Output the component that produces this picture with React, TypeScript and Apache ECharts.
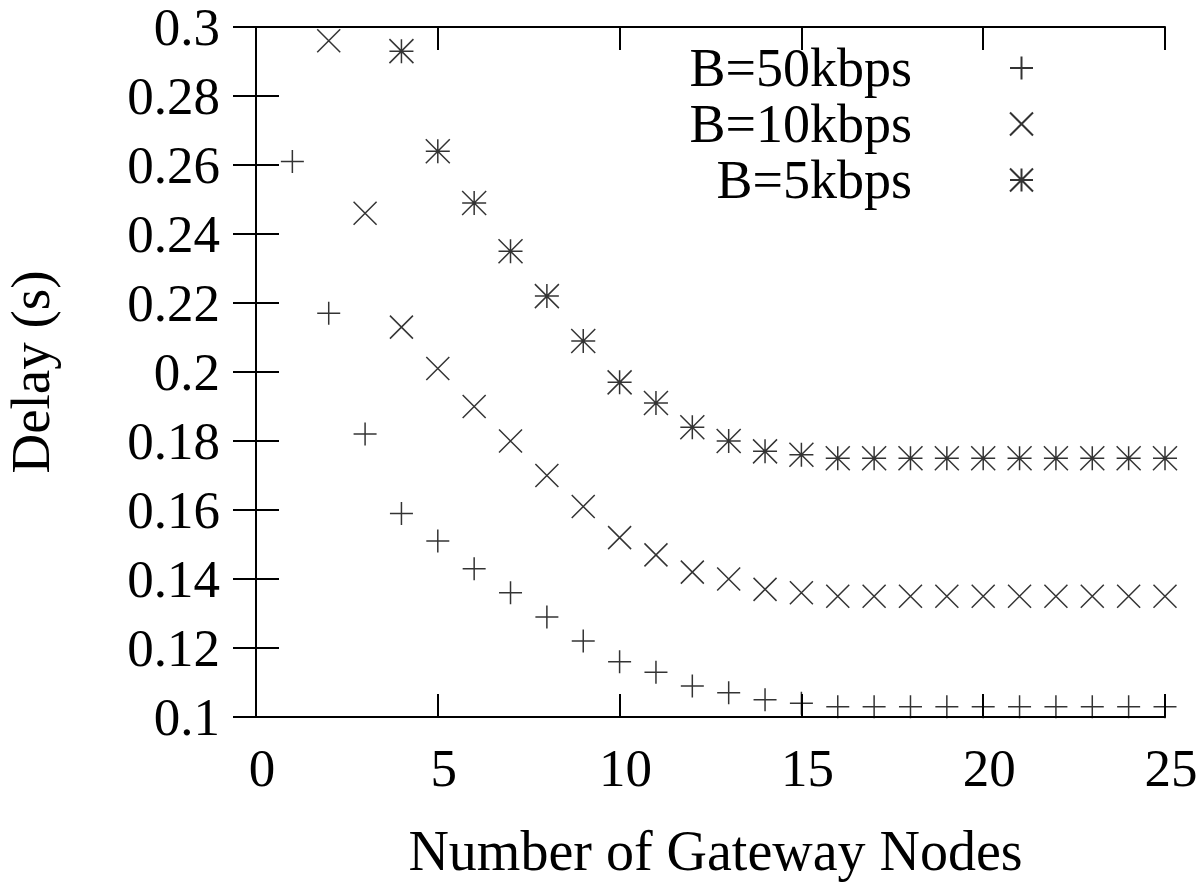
import React, { useEffect, useRef } from "react";
import * as echarts from "echarts";

const b50X = [1, 2, 3, 4, 5, 6, 7, 8, 9, 10, 11, 12, 13, 14, 15, 16, 17, 18, 19, 20, 21, 22, 23, 24, 25];
const b50Y = [0.261, 0.217, 0.182, 0.159, 0.151, 0.143, 0.136, 0.129, 0.122, 0.116, 0.113, 0.109, 0.107, 0.105, 0.104, 0.103, 0.103, 0.103, 0.103, 0.103, 0.103, 0.103, 0.103, 0.103, 0.103];

const b10X = [2, 3, 4, 5, 6, 7, 8, 9, 10, 11, 12, 13, 14, 15, 16, 17, 18, 19, 20, 21, 22, 23, 24, 25];
const b10Y = [0.296, 0.246, 0.213, 0.201, 0.190, 0.180, 0.170, 0.161, 0.152, 0.147, 0.142, 0.140, 0.137, 0.136, 0.135, 0.135, 0.135, 0.135, 0.135, 0.135, 0.135, 0.135, 0.135, 0.135];

const b5X = [4, 5, 6, 7, 8, 9, 10, 11, 12, 13, 14, 15, 16, 17, 18, 19, 20, 21, 22, 23, 24, 25];
const b5Y = [0.293, 0.264, 0.249, 0.235, 0.222, 0.209, 0.197, 0.191, 0.184, 0.180, 0.177, 0.176, 0.175, 0.175, 0.175, 0.175, 0.175, 0.175, 0.175, 0.175, 0.175, 0.175];

const seriesNames = ["B=50kbps", "B=10kbps", "B=5kbps"];
const xAxisTitle = "Number of Gateway Nodes";
const yAxisTitle = "Delay (s)";

const PLUS = "path://M0,5L10,5M5,0L5,10";
const CROSS = "path://M0,0L10,10M10,0L0,10";
const STAR = "path://M0,5L10,5M5,0L5,10M0,0L10,10M10,0L0,10";

const FONT = "Liberation Serif";

export default function App() {
  const ref = useRef<HTMLDivElement>(null);
  useEffect(() => {
    if (!ref.current) return;
    const chart = echarts.init(ref.current, undefined, { renderer: "svg" });
    const pair = (xs: number[], ys: number[]) => xs.map((x, i) => [x, ys[i]]);
    const symStyle = { color: "transparent", borderColor: "#000", borderWidth: 1.5 };
    const axisCommon = {
      axisLine: { show: true, lineStyle: { color: "#000", width: 2 } },
      axisTick: { show: true, inside: true, length: 23, lineStyle: { color: "#000", width: 2 } },
      splitLine: { show: false },
    };
    chart.setOption({
      animation: false,
      backgroundColor: "#fff",
      textStyle: { fontFamily: FONT },
      grid: { left: 256, right: 35, top: 27, bottom: 167, containLabel: false, outerBoundsMode: "none" },
      legend: {
        orient: "vertical",
        right: 166,
        top: 40,
        padding: 0,
        itemGap: 0,
        align: "right",
        itemWidth: 23,
        itemHeight: 23,
        textStyle: { fontFamily: FONT, fontSize: 54, color: "#000", lineHeight: 56, padding: [0, 93, 0, 0] },
        data: seriesNames,
      },
      xAxis: [
        {
          type: "value",
          min: 0,
          max: 25,
          interval: 5,
          name: xAxisTitle,
          nameLocation: "middle",
          nameGap: 106,
          nameTextStyle: { fontFamily: FONT, fontSize: 56, color: "#000", padding: [0, 0, 0, 10] },
          axisLabel: { fontFamily: FONT, fontSize: 53, color: "#000", margin: 24, padding: [0, 0, 0, 12] },
          ...axisCommon,
        },
        {
          type: "value",
          position: "top",
          min: 0,
          max: 25,
          interval: 5,
          axisLabel: { show: false },
          ...axisCommon,
        },
      ],
      yAxis: [
        {
          type: "value",
          min: 0.1,
          max: 0.3,
          interval: 0.02,
          name: yAxisTitle,
          nameLocation: "middle",
          nameGap: 198,
          nameTextStyle: { fontFamily: FONT, fontSize: 55, color: "#000" },
          axisLabel: { fontFamily: FONT, fontSize: 53, color: "#000", margin: 36, lineHeight: 40 },
          ...axisCommon,
        },
        {
          type: "value",
          position: "right",
          min: 0.1,
          max: 0.3,
          interval: 0.02,
          axisLabel: { show: false },
          ...axisCommon,
        },
      ],
      series: [
        {
          name: seriesNames[0],
          type: "scatter",
          symbol: PLUS,
          symbolSize: 23,
          clip: false,
          itemStyle: symStyle,
          data: pair(b50X, b50Y),
        },
        {
          name: seriesNames[1],
          type: "scatter",
          symbol: CROSS,
          symbolSize: 23,
          clip: false,
          itemStyle: symStyle,
          data: pair(b10X, b10Y),
        },
        {
          name: seriesNames[2],
          type: "scatter",
          symbol: STAR,
          symbolSize: 24,
          clip: false,
          itemStyle: symStyle,
          data: pair(b5X, b5Y),
        },
      ],
    });
    return () => chart.dispose();
  }, []);
  return <div ref={ref} style={{ width: 1200, height: 884, position: "absolute", left: 0, top: 0 }} />;
}
